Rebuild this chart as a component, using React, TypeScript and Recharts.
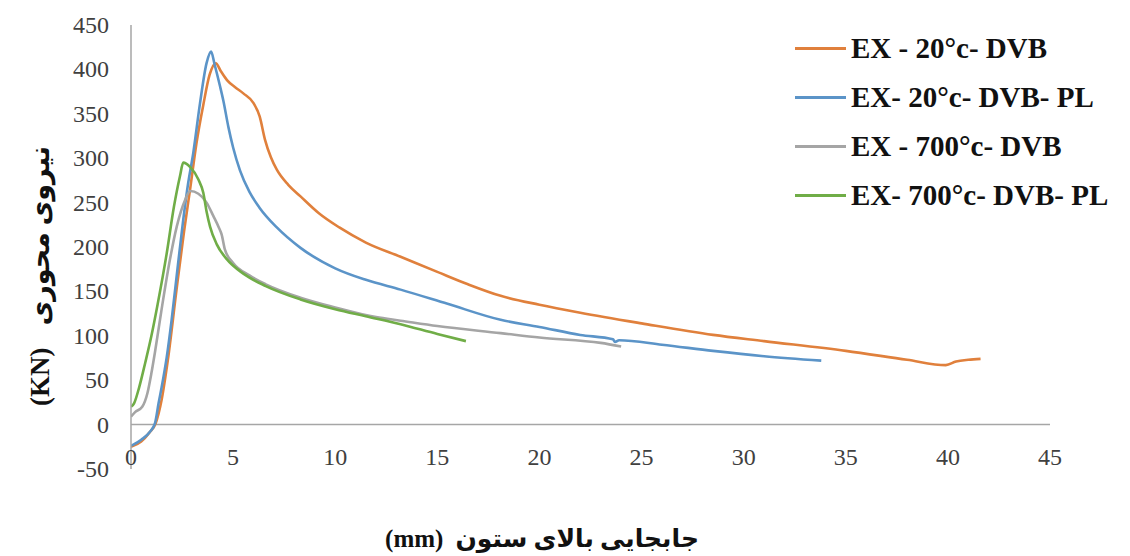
import React from 'react';
import { LineChart, Line, XAxis, YAxis, ReferenceLine } from 'recharts';

const xTicks = [0, 5, 10, 15, 20, 25, 30, 35, 40, 45];
const yTicks = [-50, 0, 50, 100, 150, 200, 250, 300, 350, 400, 450];

// [displacement mm, axial force kN]
const ex20Dvb: [number, number][] = [
  [0, -25], [0.5, -19], [0.9, -9], [1.2, 1], [1.5, 28], [1.8, 72], [2.24, 154], [2.6, 218],
  [2.9, 266], [3.2, 316], [3.54, 360], [3.85, 394], [4.15, 407], [4.4, 398], [4.7, 388],
  [5.1, 380], [5.5, 373], [6.0, 362], [6.3, 347], [6.56, 321], [6.85, 301], [7.14, 287],
  [7.7, 270], [8.3, 257], [9.2, 238], [10.2, 222], [11.5, 205], [13.2, 189], [15, 172],
  [16.5, 158], [18.1, 145], [20, 135], [22, 126], [25, 114], [28.5, 101], [31, 94],
  [35, 83], [38, 73], [39.9, 67], [40.4, 71], [41, 73], [41.6, 74],
];

const ex20DvbPl: [number, number][] = [
  [0, -24], [0.5, -17], [0.93, -8], [1.18, 2], [1.35, 24], [1.5, 42], [1.75, 76], [1.99, 118],
  [2.3, 180], [2.56, 231], [2.8, 272], [3.05, 306], [3.38, 362], [3.7, 407], [3.92, 420],
  [4.1, 405], [4.36, 381], [4.52, 365], [4.77, 335], [5.0, 312], [5.34, 286], [5.8, 262],
  [6.3, 244], [7.14, 222], [8.3, 199], [10, 176], [11.5, 163], [13.2, 152], [15.5, 136],
  [18.1, 118], [20, 110], [22, 101], [23.6, 96], [23.7, 93], [23.9, 95], [26, 90],
  [28.5, 83], [31, 77], [33.8, 72],
];

const ex700Dvb: [number, number][] = [
  [0, 9], [0.2, 14], [0.55, 20], [0.8, 35], [1.0, 58], [1.17, 81], [1.5, 130], [1.9, 185],
  [2.24, 223], [2.65, 253], [2.9, 263], [3.3, 260], [3.7, 250], [4.03, 235], [4.3, 222],
  [4.44, 214], [4.6, 197], [5.0, 182], [5.8, 168], [6.6, 158], [8.3, 143], [10, 132],
  [12, 121], [13.2, 117], [15, 111], [18.1, 103], [20, 98], [23, 92], [24, 88],
];

const ex700DvbPl: [number, number][] = [
  [0, 20], [0.15, 24], [0.4, 42], [0.7, 70], [1.0, 100], [1.3, 135], [1.75, 193], [2.1, 245],
  [2.4, 280], [2.56, 295], [2.9, 290], [3.3, 276], [3.54, 261], [3.7, 240], [3.87, 223],
  [4.2, 203], [4.7, 186], [5.5, 170], [6.6, 156], [8.3, 141], [10, 130], [11.5, 122],
  [13.2, 113], [15, 102], [16.4, 94],
];

const toPoints = (arr: [number, number][]) => arr.map(([x, y]) => ({ x, y }));

const series = [
  { name: 'EX - 20°c- DVB', color: '#E0803C', data: toPoints(ex20Dvb) },
  { name: 'EX- 20°c- DVB- PL', color: '#5B94C8', data: toPoints(ex20DvbPl) },
  { name: 'EX - 700°c- DVB', color: '#A5A5A5', data: toPoints(ex700Dvb) },
  { name: 'EX- 700°c- DVB- PL', color: '#70AD47', data: toPoints(ex700DvbPl) },
];

const FONT = '"Liberation Serif", "DejaVu Sans", serif';

const XTick = (props: any) => {
  const { x, y, payload } = props;
  return (
    <text x={x} y={y - 12} textAnchor="middle" dominantBaseline="central"
      style={{ fontSize: 24, fontFamily: FONT, fill: '#404040' }}>
      {payload.value}
    </text>
  );
};

const YTick = (props: any) => {
  const { x, y, payload } = props;
  return (
    <text x={x} y={y} textAnchor="end" dominantBaseline="central"
      style={{ fontSize: 24, fontFamily: FONT, fill: '#404040' }}>
      {payload.value}
    </text>
  );
};

const LegendBox = () => (
  <div style={{
    position: 'absolute', left: 795, top: 24, fontFamily: FONT, fontWeight: 'bold',
    fontSize: 29, color: '#111',
  }}>
    {series.map((s) => (
      <div key={s.name} style={{ display: 'flex', alignItems: 'center', height: 49, whiteSpace: 'nowrap' }}>
        <span style={{ display: 'inline-block', width: 51, height: 3, background: s.color, marginRight: 5 }} />
        <span>{s.name}</span>
      </div>
    ))}
  </div>
);

export default function App() {
  return (
    <div style={{ position: 'absolute', left: 0, top: 0, width: 1130, height: 556, background: '#fff' }}>
      <LineChart width={1130} height={556} margin={{ top: 25, right: 80, left: 0, bottom: 0 }}>
        <XAxis dataKey="x" type="number" domain={[0, 45]} ticks={xTicks} interval={0} allowDataOverflow
          axisLine={false} tickLine={false} tickSize={0} tickMargin={0} height={87} tick={<XTick />} />
        <YAxis type="number" domain={[-50, 450]} ticks={yTicks} interval={0} width={131}
          axisLine={{ stroke: '#A6A6A6', strokeWidth: 1.5 }} tickLine={false} tickSize={0} tickMargin={22}
          tick={<YTick />} />
        <ReferenceLine y={0} stroke="#A6A6A6" strokeWidth={1.5} />
        {series.map((s) => (
          <Line key={s.name} data={s.data} dataKey="y" name={s.name} type="monotone"
            stroke={s.color} strokeWidth={2.6} dot={false} activeDot={false} isAnimationActive={false} />
        ))}
      </LineChart>
      <LegendBox />
      <div style={{
        position: 'absolute', left: 40, top: 276, transform: 'translate(-50%, -50%) rotate(-90deg)',
        display: 'flex', alignItems: 'center', gap: 22,
        whiteSpace: 'nowrap', fontFamily: FONT, fontWeight: 'bold', fontSize: 27, color: '#111',
      }}>
        <span>(KN)</span>
        <span dir="rtl">نیروی محوری</span>
      </div>
      <div style={{
        position: 'absolute', left: 542, top: 538, transform: 'translate(-50%, -50%)',
        display: 'flex', alignItems: 'center', gap: 12,
        whiteSpace: 'nowrap', fontFamily: FONT, fontWeight: 'bold', fontSize: 25, color: '#111',
      }}>
        <span>(mm)</span>
        <span dir="rtl">جابجایی بالای ستون</span>
      </div>
    </div>
  );
}
